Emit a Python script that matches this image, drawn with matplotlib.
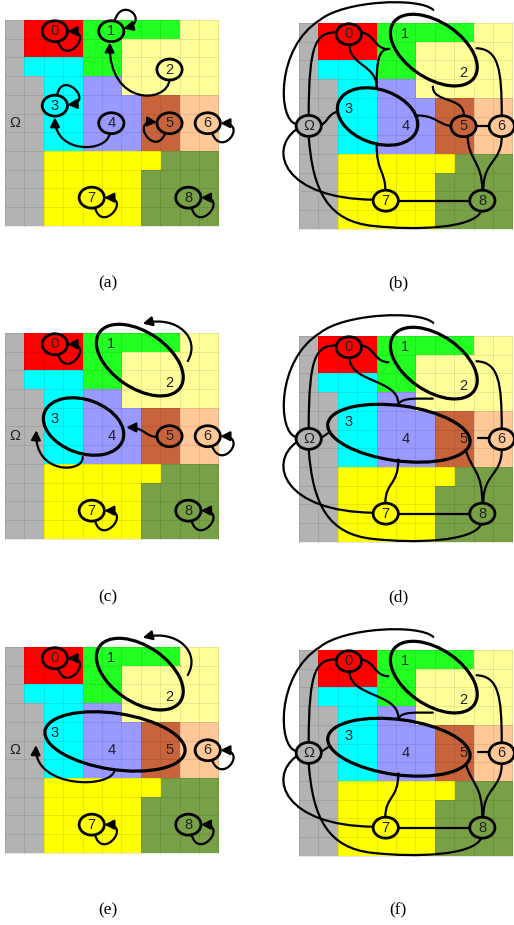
import numpy as np
import matplotlib
matplotlib.use("Agg")
import matplotlib.pyplot as plt
from matplotlib.colors import ListedColormap
from matplotlib.patches import Ellipse, FancyArrowPatch, PathPatch
from matplotlib.path import Path

# ---------------- data ----------------
region_ids = ["Ω", "0", "1", "2", "3", "4", "5", "6", "7", "8"]
region_keys = ["O", "0", "1", "2", "3", "4", "5", "6", "7", "8"]
region_colors = ["#b3b3b3", "#ff0000", "#22ff22", "#ffff99", "#00ffff",
                 "#9999ff", "#c8643c", "#ffc896", "#ffff00", "#78a046"]
region_map = [
    "O0001111122",
    "O0001122222",
    "O3331122222",
    "OO334422222",
    "OO334445566",
    "OO334445566",
    "OO334445566",
    "OO777777888",
    "OO777778888",
    "OO777778888",
    "OO777778888",
]
# node centres in grid (column, row) units
node_col = [0.5, 2.57, 5.48, 8.48, 2.57, 5.48, 8.48, 10.45, 4.47, 9.45]
node_row = [5.5, 0.6, 0.6, 2.65, 4.58, 5.52, 5.52, 5.52, 9.5, 9.5]

panel_labels = ["(a)", "(b)", "(c)", "(d)", "(e)", "(f)"]

# merged groups: centre col,row, width, height, angle
groups = {
    "12": (6.95, 1.45, 5.1, 2.95, 36),
    "34": (4.05, 5.0, 4.3, 2.85, 21),
    "345d": (5.15, 5.2, 7.4, 2.95, 8),
    "345e": (5.67, 5.05, 7.3, 3.0, 9),
}

panel_circles = {
    "(a)": ["0", "1", "2", "3", "4", "5", "6", "7", "8"],
    "(b)": ["Ω", "0", "5", "6", "7", "8"],
    "(c)": ["0", "5", "6", "7", "8"],
    "(d)": ["Ω", "0", "6", "7", "8"],
    "(e)": ["0", "6", "7", "8"],
    "(f)": ["Ω", "0", "6", "7", "8"],
}
panel_groups = {
    "(a)": [], "(b)": ["12", "34"], "(c)": ["12", "34"],
    "(d)": ["12", "345d"], "(e)": ["12", "345e"], "(f)": ["12", "345d"],
}
# self loops: node, start angle, end angle (degrees, screen sense)
loops_a = [("0", -75, 0), ("1", 75, 15), ("3", 80, 5), ("5", -110, 175),
           ("6", -70, 0), ("7", -75, 0), ("8", -75, 0)]
loops_ce = [("0", -75, 0), ("6", -70, 0), ("7", -75, 0), ("8", -75, 0)]
panel_loops = {"(a)": loops_a, "(b)": [], "(c)": loops_ce, "(d)": [],
               "(e)": loops_ce, "(f)": []}

# directed edges (bezier control points, grid units)
arrows_a = [
    [(8.48, 3.2), (8.35, 4.5), (5.35, 4.6), (5.4, 1.2)],
    [(5.4, 6.05), (5.3, 7.1), (2.6, 7.2), (2.57, 5.2)],
]
loop12 = [(9.42, 1.5), (10.1, 0.3), (8.9, -0.95), (7.1, -0.5)]
arrows_c = [
    loop12,
    [(4.0, 6.62), (4.1, 7.5), (1.5, 7.6), (1.62, 5.2)],
    [(7.85, 5.55), (7.3, 5.6), (7.2, 5.05), (6.25, 5.05)],
]
arrows_e = [
    loop12,
    [(5.65, 6.55), (5.6, 7.6), (1.5, 7.6), (1.6, 5.25)],
]
panel_arrows = {"(a)": arrows_a, "(b)": [], "(c)": arrows_c, "(d)": [],
                "(e)": arrows_e, "(f)": []}

# undirected edges
e_om0 = [(0.5, 4.95), (0.5, 1.0), (0.9, 0.5), (1.95, 0.5)]
e_arc = [(-0.15, 5.4), (-1.1, 5.2), (-1.2, 1.3), (1.08, -0.16),
         (2.3, -1.2), (6.2, -1.4), (6.92, -0.7)]
e_om7 = [(-0.15, 5.7), (-1.6, 6.8), (-0.8, 9.4), (3.85, 9.45)]
e_om8 = [(0.5, 6.05), (0.7, 9.0), (1.5, 10.6), (3.8, 10.85),
         (6.0, 11.1), (9.0, 11.0), (9.4, 10.05)]
e_012 = [(3.2, 0.5), (3.9, 0.6), (3.9, 1.4), (4.6, 1.4)]
e_126 = [(9.15, 1.35), (10.3, 1.4), (10.45, 2.5), (10.45, 4.95)]
e_78 = [(5.11, 9.5), (8.81, 9.5)]
e_68 = [(10.45, 6.05), (10.45, 7.5), (9.5, 7.3), (9.5, 8.95)]
edges_b = [
    [(1.05, 5.45), (1.45, 5.45), (1.45, 4.85), (1.98, 4.75)],
    e_om0, e_arc, e_om7, e_om8, e_012,
    [(2.6, 1.15), (2.6, 2.3), (4.0, 2.2), (4.0, 3.45)],
    [(4.0, 3.45), (4.0, 2.0), (4.1, 1.4), (4.65, 1.38)],
    [(6.9, 3.4), (6.9, 4.3), (8.5, 3.9), (8.5, 4.95)],
    e_126,
    [(6.05, 4.95), (7.0, 4.9), (7.3, 5.5), (7.85, 5.5)],
    [(9.12, 5.5), (9.81, 5.5)],
    [(4.0, 6.45), (4.0, 8.0), (4.45, 7.9), (4.45, 8.95)],
    e_78,
    [(8.7, 6.05), (8.7, 7.3), (9.45, 7.4), (9.45, 8.95)],
    e_68,
]
edges_d = [
    [(1.05, 5.45), (1.3, 5.4), (1.35, 5.25), (1.6, 5.15)],
    e_om0, e_arc, e_om7, e_om8, e_012,
    [(2.6, 1.15), (2.6, 2.5), (5.1, 2.3), (5.12, 3.6)],
    [(6.9, 3.35), (6.0, 3.35), (5.4, 3.3), (5.15, 3.6)],
    e_126,
    [(9.24, 5.45), (9.81, 5.45)],
    [(5.12, 6.6), (5.12, 8.0), (4.45, 7.8), (4.45, 8.95)],
    [(8.6, 6.1), (8.9, 7.2), (9.45, 7.2), (9.45, 8.95)],
    e_68, e_78,
]
panel_edges = {"(a)": [], "(b)": edges_b, "(c)": [], "(d)": edges_d,
               "(e)": [], "(f)": edges_d}

# ---------------- layout ----------------
W, H = 514, 925
CW, CH = 19.4, 18.7
panel_origin = {"(a)": (5, 20), "(b)": (299, 23), "(c)": (5, 333),
                "(d)": (299, 336), "(e)": (5, 647), "(f)": (299, 650)}
caption_pos = {"(a)": (108, 283), "(b)": (398, 283), "(c)": (108, 597),
               "(d)": (398, 597), "(e)": (108, 910), "(f)": (398, 910)}
RX, RY = 0.65, 0.56
TXT = "#222222"

fig = plt.figure(figsize=(W / 100, H / 100), dpi=100)

key_index = {k: i for i, k in enumerate(region_keys)}
grid_idx = np.array([[key_index[c] for c in row] for row in region_map])
cmap = ListedColormap(region_colors)
label_index = {lab: i for i, lab in enumerate(region_ids)}


def bez_path(pts):
    if len(pts) == 2:
        return Path(pts, [Path.MOVETO, Path.LINETO])
    codes = [Path.MOVETO] + [Path.CURVE4] * (len(pts) - 1)
    return Path(pts, codes)


def loop_pts(i, a1, a2, L=1.45):
    cx, cy = node_col[i], node_row[i]
    u1 = np.array([np.cos(np.radians(a1)), -np.sin(np.radians(a1))])
    u2 = np.array([np.cos(np.radians(a2)), -np.sin(np.radians(a2))])
    p1 = np.array([cx + RX * u1[0], cy + RY * u1[1]])
    p2 = np.array([cx + RX * u2[0], cy + RY * u2[1]])
    return [tuple(p1), tuple(p1 + L * u1), tuple(p2 + L * u2), tuple(p2)]


def add_arrow(ax, pts):
    ar = FancyArrowPatch(path=bez_path(pts),
                         arrowstyle="-|>,head_length=0.55,head_width=0.28",
                         mutation_scale=10, lw=1.6, color="black",
                         zorder=4)
    ax.add_patch(ar)


for lab in panel_labels:
    gx0, gy0 = panel_origin[lab]
    bx0, bx1 = (0, 257) if gx0 < 100 else (260, 514)
    by0, by1 = max(gy0 - 22, 0), gy0 + 235
    ax = fig.add_axes([bx0 / W, 1 - by1 / H, (bx1 - bx0) / W, (by1 - by0) / H])
    ax.set_xlim((bx0 - gx0) / CW, (bx1 - gx0) / CW)
    ax.set_ylim((by1 - gy0) / CH, (by0 - gy0) / CH)
    ax.axis("off")

    ax.imshow(grid_idx, cmap=cmap, vmin=-0.5, vmax=len(region_colors) - 0.5,
              extent=(0, 11, 11, 0), interpolation="nearest", aspect="auto",
              zorder=0)
    for k in range(12):
        ax.plot([k, k], [0, 11], color=(0, 0, 0, 0.1), lw=0.6, zorder=1)
        ax.plot([0, 11], [k, k], color=(0, 0, 0, 0.1), lw=0.6, zorder=1)

    for pts in panel_edges[lab]:
        ax.add_patch(PathPatch(bez_path(pts), fill=False, lw=1.6,
                               ec="black", zorder=2, capstyle="round"))

    for g in panel_groups[lab]:
        cx, cy, w, h, ang = groups[g]
        ax.add_patch(Ellipse((cx, cy), w, h, angle=ang, fill=False,
                             ec="black", lw=2.3, zorder=3))

    for name in region_ids:
        i = label_index[name]
        if name in panel_circles[lab]:
            ax.add_patch(Ellipse((node_col[i], node_row[i]), 2 * RX, 2 * RY,
                                 fc=region_colors[i], ec="black", lw=2.0,
                                 zorder=3))
        ax.text(node_col[i], node_row[i], name, ha="center", va="center",
                fontsize=10.5, color=TXT,
                family=["Liberation Sans", "DejaVu Sans"], zorder=5)

    for name, a1, a2 in panel_loops[lab]:
        add_arrow(ax, loop_pts(label_index[name], a1, a2))
    for pts in panel_arrows[lab]:
        add_arrow(ax, pts)

    cx, cy = caption_pos[lab]
    fig.text(cx / W, 1 - cy / H, lab, ha="center", va="center",
             fontsize=12.5, family=["Liberation Serif", "DejaVu Serif"])

fig.savefig("out.png", dpi=100)
